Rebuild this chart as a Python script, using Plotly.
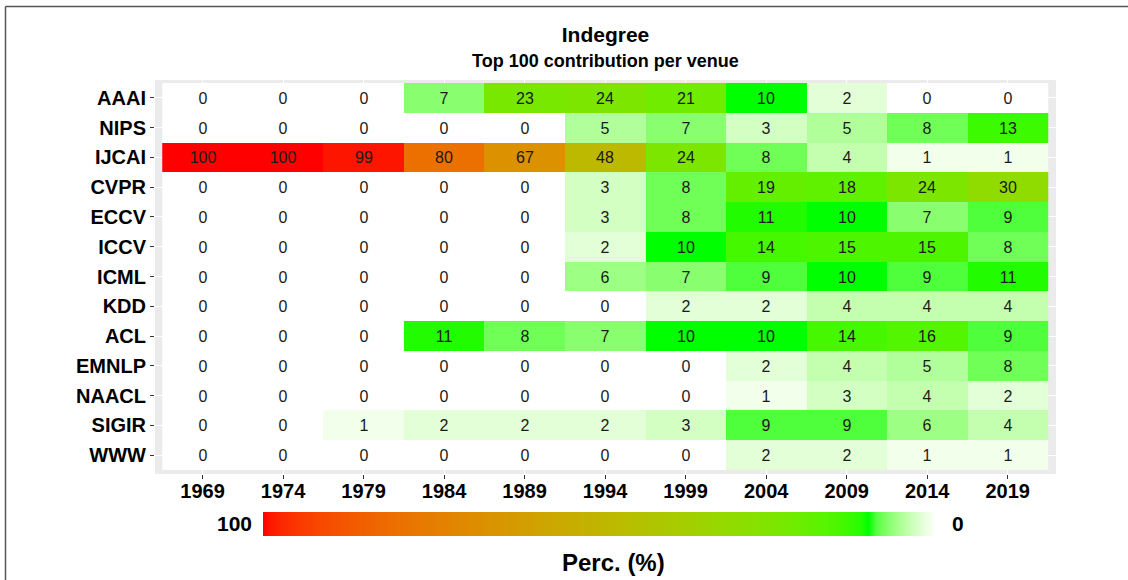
import plotly.graph_objects as go

venues = ["AAAI", "NIPS", "IJCAI", "CVPR", "ECCV", "ICCV", "ICML",
          "KDD", "ACL", "EMNLP", "NAACL", "SIGIR", "WWW"]
years = ["1969", "1974", "1979", "1984", "1989", "1994", "1999",
         "2004", "2009", "2014", "2019"]

AAAI = [0, 0, 0, 7, 23, 24, 21, 10, 2, 0, 0]
NIPS = [0, 0, 0, 0, 0, 5, 7, 3, 5, 8, 13]
IJCAI = [100, 100, 99, 80, 67, 48, 24, 8, 4, 1, 1]
CVPR = [0, 0, 0, 0, 0, 3, 8, 19, 18, 24, 30]
ECCV = [0, 0, 0, 0, 0, 3, 8, 11, 10, 7, 9]
ICCV = [0, 0, 0, 0, 0, 2, 10, 14, 15, 15, 8]
ICML = [0, 0, 0, 0, 0, 6, 7, 9, 10, 9, 11]
KDD = [0, 0, 0, 0, 0, 0, 2, 2, 4, 4, 4]
ACL = [0, 0, 0, 11, 8, 7, 10, 10, 14, 16, 9]
EMNLP = [0, 0, 0, 0, 0, 0, 0, 2, 4, 5, 8]
NAACL = [0, 0, 0, 0, 0, 0, 0, 1, 3, 4, 2]
SIGIR = [0, 0, 1, 2, 2, 2, 3, 9, 9, 6, 4]
WWW = [0, 0, 0, 0, 0, 0, 0, 2, 2, 1, 1]

values = [AAAI, NIPS, IJCAI, CVPR, ECCV, ICCV, ICML, KDD, ACL, EMNLP, NAACL, SIGIR, WWW]

# ---- colour scale: white (0) -> green (10) -> red (100), interpolated in Lab ----
def srgb_to_lab(rgb):
    def lin(c):
        c = c / 255.0
        return c / 12.92 if c <= 0.04045 else ((c + 0.055) / 1.055) ** 2.4
    r, g, b = (lin(c) for c in rgb)
    X = (0.4124 * r + 0.3576 * g + 0.1805 * b) / 0.95047
    Y = (0.2126 * r + 0.7152 * g + 0.0722 * b)
    Z = (0.0193 * r + 0.1192 * g + 0.9505 * b) / 1.08883
    def f(t):
        return t ** (1 / 3) if t > 0.008856 else 7.787 * t + 16 / 116
    fx, fy, fz = f(X), f(Y), f(Z)
    return (116 * fy - 16, 500 * (fx - fy), 200 * (fy - fz))

def lab_to_srgb(lab):
    L_, a, bb = lab
    fy = (L_ + 16) / 116
    fx = fy + a / 500
    fz = fy - bb / 200
    def finv(t):
        return t ** 3 if t ** 3 > 0.008856 else (t - 16 / 116) / 7.787
    X, Y, Z = finv(fx) * 0.95047, finv(fy), finv(fz) * 1.08883
    r = 3.2406 * X - 1.5372 * Y - 0.4986 * Z
    g = -0.9689 * X + 1.8758 * Y + 0.0415 * Z
    b = 0.0557 * X - 0.2040 * Y + 1.0570 * Z
    def gam(c):
        c = min(max(c, 0.0), 1.0)
        c = 12.92 * c if c <= 0.0031308 else 1.055 * c ** (1 / 2.4) - 0.055
        return int(round(min(max(c, 0), 1) * 255))
    return "rgb(%d,%d,%d)" % (gam(r), gam(g), gam(b))

anchors = [(0, (255, 255, 255)), (10, (0, 255, 0)), (100, (255, 0, 0))]
anchor_lab = [(v, srgb_to_lab(c)) for v, c in anchors]

def colour_for(v):
    for (v0, l0), (v1, l1) in zip(anchor_lab[:-1], anchor_lab[1:]):
        if v0 <= v <= v1:
            t = (v - v0) / (v1 - v0)
            return lab_to_srgb(tuple(a + (b - a) * t for a, b in zip(l0, l1)))
    return lab_to_srgb(anchor_lab[-1][1])

stops = []
for v in range(100, -1, -1):
    stops.append([1 - v / 100.0, colour_for(v)])

# z is negated so that the horizontal colour bar runs 100 (left) -> 0 (right)
z = [[-v for v in row] for row in values]
text = [[str(v) for v in row] for row in values]

FONT = "Liberation Sans, Arial, Helvetica, sans-serif"

L, R, T, B = 155, 72, 80, 106
PW, PH = 1128 - L - R, 580 - T - B

def px_x(px):
    return (px - L) / PW

def px_y(py):
    return (580 - B - py) / PH

fig = go.Figure(go.Heatmap(
    x=years, y=venues, z=z, text=text,
    texttemplate="%{text}",
    textfont=dict(family=FONT, size=16, color="#1a1a1a"),
    colorscale=stops, zmin=-100, zmax=0,
    xgap=0, ygap=0, hoverinfo="skip",
    colorbar=dict(
        orientation="h",
        xref="paper", yref="paper",
        x=px_x(263), xanchor="left",
        y=px_y(536), yanchor="bottom",
        len=673, lenmode="pixels",
        thickness=24, thicknessmode="pixels",
        outlinewidth=0, showticklabels=False, ticks="",
        xpad=0, ypad=0,
    ),
))

fig.update_layout(
    width=1128, height=580,
    margin=dict(l=L, r=R, t=T, b=B, pad=0),
    paper_bgcolor="white",
    plot_bgcolor="#EBEBEB",
    font=dict(family=FONT, color="black"),
    title=dict(
        text="<b>Indegree</b>",
        font=dict(family=FONT, size=21, color="black"),
        x=0.5, xref="paper", xanchor="center",
        y=1 - 34.5 / 580, yref="container", yanchor="middle",
    ),
    xaxis=dict(
        type="category", range=[-0.59, 10.6],
        showgrid=True, gridcolor="white", gridwidth=1,
        zeroline=False, showline=False,
        ticks="outside", ticklen=4, tickwidth=1, tickcolor="#333333",
        ticklabelstandoff=-5,
        tickfont=dict(family=FONT, size=20, color="black", weight="bold"),
    ),
    yaxis=dict(
        type="category", range=[12.63, -0.6],
        showgrid=True, gridcolor="white", gridwidth=1,
        zeroline=False, showline=False,
        ticks="outside", ticklen=4, tickwidth=1, tickcolor="#333333",
        tickfont=dict(family=FONT, size=20, color="black", weight="bold"),
    ),
    annotations=[
        dict(text="<b>Top 100 contribution per venue</b>", xref="paper", yref="paper",
             x=0.5, y=px_y(61), xanchor="center", yanchor="middle", showarrow=False,
             font=dict(family=FONT, size=18, color="black")),
        dict(text="<b>100</b>", xref="paper", yref="paper",
             x=px_x(234), y=px_y(523), xanchor="center", yanchor="middle", showarrow=False,
             font=dict(family=FONT, size=21, color="black")),
        dict(text="<b>0</b>", xref="paper", yref="paper",
             x=px_x(957.5), y=px_y(523), xanchor="center", yanchor="middle", showarrow=False,
             font=dict(family=FONT, size=21, color="black")),
        dict(text="<b>Perc. (%)</b>", xref="paper", yref="paper",
             x=px_x(613.7), y=px_y(562), xanchor="center", yanchor="middle", showarrow=False,
             font=dict(family=FONT, size=24, color="black")),
    ],
    shapes=[
        dict(type="line", xref="paper", yref="paper",
             x0=px_x(5.5), x1=px_x(1140), y0=px_y(6.5), y1=px_y(6.5),
             line=dict(color="#555555", width=1.5)),
        dict(type="line", xref="paper", yref="paper",
             x0=px_x(5.5), x1=px_x(5.5), y0=px_y(6.5), y1=px_y(600),
             line=dict(color="#555555", width=1.5)),
    ],
)

fig.write_html(
    "out.html",
    config={"displayModeBar": False},
    post_script="document.body.style.margin='0';document.body.style.padding='0';",
)
